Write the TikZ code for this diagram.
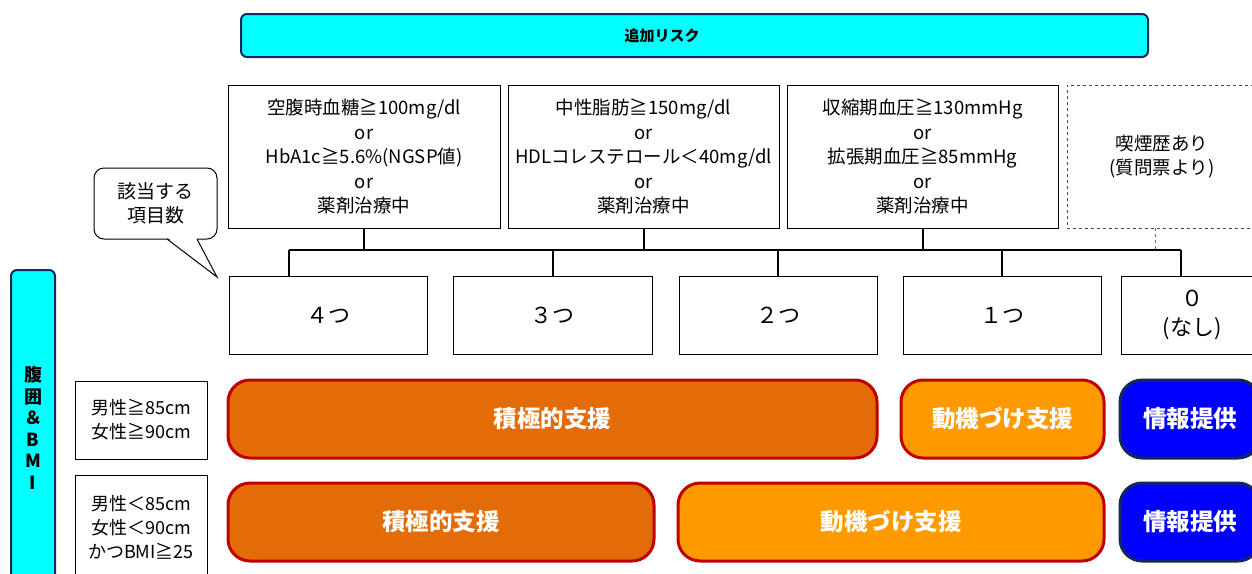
\documentclass[tikz,border=0pt]{standalone}
\usepackage{fontspec}
\setmainfont{Noto Sans CJK JP}
\definecolor{cyanfill}{HTML}{00FFFF}
\definecolor{navy}{HTML}{14285A}
\definecolor{darkorange}{HTML}{E36C09}
\definecolor{lightorange}{HTML}{FF9900}
\definecolor{redline}{HTML}{C00000}
\definecolor{bluefill}{HTML}{0000FF}
\tikzset{
  crit/.style={draw, line width=1pt, align=center, inner sep=0pt, outer sep=0pt, anchor=north west,
    font=\fontsize{18.5}{24.5}\selectfont},
  countbox/.style={draw, line width=1pt, align=center, inner sep=0pt, outer sep=0pt, anchor=north west,
    minimum height=78pt, font=\fontsize{22}{29}\selectfont},
  rowlabel/.style={draw, line width=1pt, align=center, inner sep=0pt, outer sep=0pt, anchor=north west,
    minimum width=132pt, font=\fontsize{18}{24}\selectfont},
  plan/.style={draw=redline, line width=3pt, rounded corners=22pt, inner sep=0pt, outer sep=0pt,
    anchor=north west, minimum height=78pt, text=white, font=\bfseries\fontsize{23.5}{26}\selectfont},
  planA/.style={plan, fill=darkorange},
  planB/.style={plan, fill=lightorange},
  planC/.style={plan, fill=bluefill, draw=navy},
  busline/.style={line width=2pt},
}
\begin{document}
\begin{tikzpicture}[x=1pt, y=-1pt]
\useasboundingbox (0,0) rectangle (1252,573);
\clip (0,0) rectangle (1252,573);

% header
\node[draw=navy, fill=cyanfill, line width=2pt, rounded corners=6pt, minimum width=907pt, minimum height=43pt,
  inner sep=0pt, outer sep=0pt, anchor=north west] (hdr) at (241,14) {};
\node[font=\bfseries\fontsize{15}{17}\selectfont] (hdrtext) at (662,36) {追加リスク};

% criteria boxes
\node[crit, minimum width=272pt, minimum height=143pt] (c1) at (228,85)
  {空腹時血糖≧100mg/dl\\or\\HbA1c≧5.6\%(NGSP値)\\or\\薬剤治療中};
\node[crit, minimum width=271pt, minimum height=143pt] (c2) at (508,85)
  {中性脂肪≧150mg/dl\\or\\HDLコレステロール＜40mg/dl\\or\\薬剤治療中};
\node[crit, minimum width=271pt, minimum height=143pt] (c3) at (787,85)
  {収縮期血圧≧130mmHg\\or\\拡張期血圧≧85mmHg\\or\\薬剤治療中};
\node[crit, dashed, draw=black!70, minimum width=190pt, minimum height=143pt] (c4) at (1067,85)
  {喫煙歴あり\\(質問票より)};

% count boxes
\node[countbox, minimum width=198pt] (n4) at (229,276) {４つ};
\node[countbox, minimum width=199pt] (n3) at (453,276) {３つ};
\node[countbox, minimum width=198pt] (n2) at (679,276) {２つ};
\node[countbox, minimum width=198pt] (n1) at (903,276) {１つ};
\node[countbox, minimum width=142pt] (n0) at (1121,276) {０\\(なし)};

% bus
\coordinate (busL) at (289,250);
\coordinate (busR) at (1181,250);
\draw[dashed, black!60, line width=1pt] ([xshift=-7pt]c4.south) -- ([xshift=-7pt]c4.south |- busL);
\draw[busline] (c1.south) -- (c1.south |- busL);
\draw[busline] (c2.south) -- (c2.south |- busL);
\draw[busline] (c3.south) -- (c3.south |- busL);
\draw[busline] (busL) -- (busR);
\draw[busline] (busL) -- (busL |- n4.north);
\draw[busline] (n3.north |- busL) -- (n3.north);
\draw[busline] (n2.north |- busL) -- (n2.north);
\draw[busline] (n1.north |- busL) -- (n1.north);
\draw[busline] (busR) -- (busR |- n0.north);

% callout
\node[draw, fill=white, line width=1pt, rounded corners=10pt, minimum width=123pt, minimum height=71pt,
  inner sep=0pt, outer sep=0pt, anchor=north west, align=center, font=\fontsize{19}{24}\selectfont]
  (callout) at (94,168) {該当する\\項目数};
\coordinate (tip) at (217,277);
\path (callout.south west) ++(73,0) coordinate (pl) ++(30,0) coordinate (pr);
\fill[white] (167.5,237.4) -- (tip) -- (196.5,237.4) -- cycle;
\draw[line width=1pt] (pl) -- (tip) -- (pr);

% left bar
\node[draw=navy, fill=cyanfill, line width=2pt, rounded corners=6pt, minimum width=44pt, minimum height=316pt,
  inner sep=0pt, outer sep=0pt, anchor=north west, align=center, font=\bfseries\fontsize{18}{21.5}\selectfont]
  (bar) at (11,270) {腹\\囲\\＆\\B\\M\\I};

% row labels
\node[rowlabel, minimum height=78pt] (r1) at (75,381) {男性≧85cm\\女性≧90cm};
\node[rowlabel, minimum height=104pt] (r2) at (75,475) {男性＜85cm\\女性＜90cm\\かつBMI≧25};

% row 1
\node[planA, minimum width=649pt] (a1) at (228,380) {積極的支援};
\node[planB, minimum width=203pt] (b1) at (901,380) {動機づけ支援};
\node[planC, minimum width=140pt] (i1) at (1120,380) {情報提供};
% row 2
\node[planA, minimum width=426pt] (a2) at (228,483) {積極的支援};
\node[planB, minimum width=426pt] (b2) at (678,483) {動機づけ支援};
\node[planC, minimum width=140pt] (i2) at (1120,483) {情報提供};
\end{tikzpicture}
\end{document}
